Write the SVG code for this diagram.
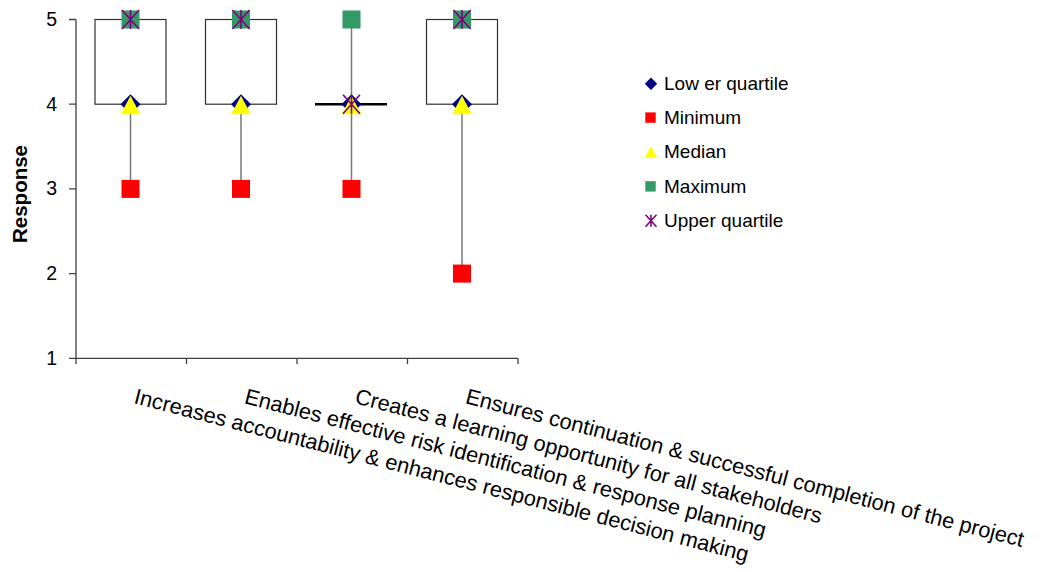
<svg xmlns="http://www.w3.org/2000/svg" width="1040" height="572" viewBox="0 0 1040 572">
<style>
text{font-family:"Liberation Sans",Arial,sans-serif;fill:#000}
.axis{stroke:#404040;stroke-width:1.3;fill:none}
.box{stroke:#303030;stroke-width:1.2;fill:#fff}
.wh{stroke:#777;stroke-width:1.5}
.med{stroke:#000;stroke-width:2.6}
.lq{fill:#000080}
.mn{fill:#ff0000}
.md{fill:#ffff00}
.mx{fill:#339966}
.uq{stroke:#800080;stroke-width:1.6;fill:none}
.tick{font-size:19.5px}
.cat{font-size:21.8px}
.leg{font-size:19px}
</style>
<defs>
<path id="dia" d="M0,-10 L10,0 L0,10 L-10,0Z"/>
<rect id="sq" x="-9" y="-9" width="18" height="18"/>
<path id="tri" d="M0,-8.5 L9.8,10 L-9.8,10Z"/>
<path id="ast" d="M-8.5,-9.5 L8.5,9.5 M8.5,-9.5 L-8.5,9.5 M0,-9.5 V9.5"/>
<path id="diaS" d="M0,-6.2 L6.2,0 L0,6.2 L-6.2,0Z"/>
<rect id="sqS" x="-5.2" y="-5.2" width="10.4" height="10.4"/>
<path id="triS" d="M0,-6 L6.2,6 L-6.2,6Z"/>
<path id="astS" d="M-5.5,-6 L5.5,6 M5.5,-6 L-5.5,6 M0,-6 V6"/>
</defs>
<rect width="1040" height="572" fill="#fff"/>

<g id="axes">
<path class="axis" d="M76,19.5 V364 M69,19.5 H76 M69,104.2 H76 M69,188.9 H76 M69,273.6 H76 M69,358.3 H518 M186.5,358.3 V364 M297,358.3 V364 M407.5,358.3 V364 M518,358.3 V364"/>
<text class="tick" x="57" y="25.5" text-anchor="end">5</text>
<text class="tick" x="57" y="110.5" text-anchor="end">4</text>
<text class="tick" x="57" y="195" text-anchor="end">3</text>
<text class="tick" x="57" y="280" text-anchor="end">2</text>
<text class="tick" x="57" y="364.5" text-anchor="end">1</text>
<text x="26.5" y="194" transform="rotate(-90 26.5 194)" text-anchor="middle" font-size="20.5" font-weight="bold">Response</text>
</g>

<g id="connectors">
<line class="wh" x1="130.5" y1="104.2" x2="130.5" y2="188.9"/>
<line class="wh" x1="241" y1="104.2" x2="241" y2="188.9"/>
<line class="wh" x1="351.5" y1="19.5" x2="351.5" y2="188.9"/>
<line class="wh" x1="462" y1="104.2" x2="462" y2="273.6"/>
</g>

<g id="box1">
<rect class="box" x="95" y="19.5" width="71" height="84.7"/>
<use href="#dia" class="lq" x="130.5" y="104.2"/>
<use href="#sq" class="mn" x="130.5" y="188.9"/>
<use href="#tri" class="md" x="130.5" y="104.2"/>
<use href="#sq" class="mx" x="130.5" y="19.5"/>
<use href="#ast" class="uq" x="130.5" y="19.5"/>
</g>
<g id="box2">
<rect class="box" x="205.5" y="19.5" width="71" height="84.7"/>
<use href="#dia" class="lq" x="241" y="104.2"/>
<use href="#sq" class="mn" x="241" y="188.9"/>
<use href="#tri" class="md" x="241" y="104.2"/>
<use href="#sq" class="mx" x="241" y="19.5"/>
<use href="#ast" class="uq" x="241" y="19.5"/>
</g>
<g id="box3">
<line class="med" x1="315" y1="104.2" x2="387" y2="104.2"/>
<use href="#dia" class="lq" x="351.5" y="104.2"/>
<use href="#sq" class="mn" x="351.5" y="188.9"/>
<use href="#tri" class="md" x="351.5" y="104.2"/>
<use href="#sq" class="mx" x="351.5" y="19.5"/>
<use href="#ast" class="uq" x="351.5" y="104.2"/>
</g>
<g id="box4">
<rect class="box" x="426.5" y="19.5" width="71" height="84.7"/>
<use href="#dia" class="lq" x="462" y="104.2"/>
<use href="#sq" class="mn" x="462" y="273.6"/>
<use href="#tri" class="md" x="462" y="104.2"/>
<use href="#sq" class="mx" x="462" y="19.5"/>
<use href="#ast" class="uq" x="462" y="19.5"/>
</g>

<g id="categories">
<text class="cat" transform="translate(133 403) rotate(14.5)">Increases accountability &amp; enhances responsible decision making</text>
<text class="cat" transform="translate(243.5 403) rotate(14.5)">Enables effective risk identification &amp; response planning</text>
<text class="cat" transform="translate(354 403) rotate(14.5)">Creates a learning opportunity for all stakeholders</text>
<text class="cat" transform="translate(464.5 403) rotate(14.5)">Ensures continuation &amp; successful completion of the project</text>
</g>

<g id="legend">
<g id="leg-lq"><use href="#diaS" class="lq" x="651" y="83.7"/><text class="leg" x="664" y="89.7">Low er quartile</text></g>
<g id="leg-mn"><use href="#sqS" class="mn" x="650.5" y="117.6"/><text class="leg" x="664" y="124">Minimum</text></g>
<g id="leg-md"><use href="#triS" class="md" x="651" y="152"/><text class="leg" x="664" y="158.4">Median</text></g>
<g id="leg-mx"><use href="#sqS" class="mx" x="650.5" y="186.4"/><text class="leg" x="664" y="192.8">Maximum</text></g>
<g id="leg-uq"><use href="#astS" class="uq" x="651" y="220.8"/><text class="leg" x="664" y="227">Upper quartile</text></g>
</g>
</svg>
